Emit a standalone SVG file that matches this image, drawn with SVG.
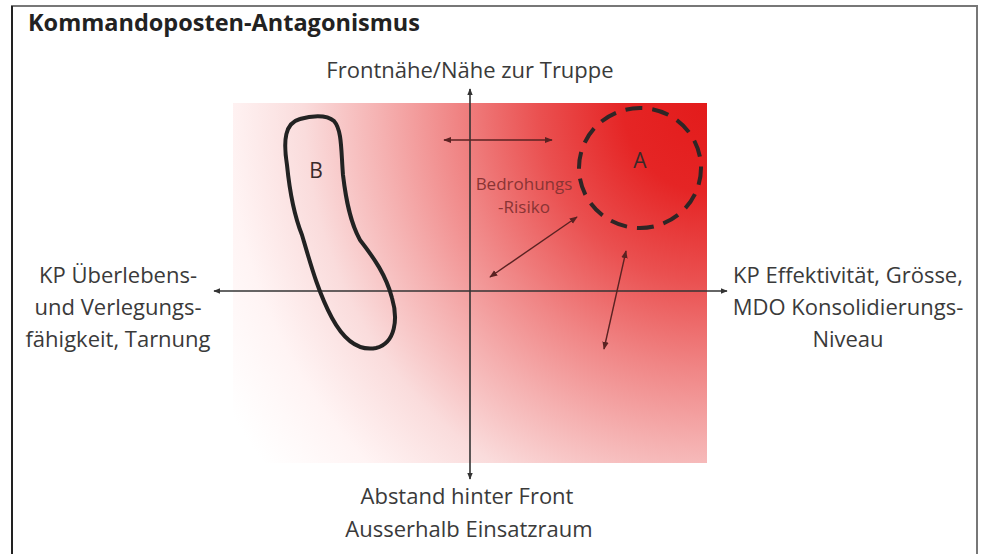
<svg xmlns="http://www.w3.org/2000/svg" width="984" height="554" viewBox="0 0 984 554">
<style>
.lbl{font-family:"Open Sans","Liberation Sans",sans-serif;font-size:22px;fill:#3a3a3a;text-anchor:middle}
.ttl{font-family:"Open Sans","Liberation Sans",sans-serif;font-size:23.5px;font-weight:bold;fill:#222}
.axis{stroke:#333;stroke-width:1.6;fill:none}
.rel{stroke:#5a2222;stroke-width:1.4;fill:none}
.risk{font-family:"Open Sans","Liberation Sans",sans-serif;font-size:17px;fill:#8a3434;text-anchor:middle}
.mark{font-family:"Open Sans","Liberation Sans",sans-serif;font-size:21px;fill:#3a2a2a;text-anchor:middle}
</style>
<defs>
<radialGradient id="heat" gradientUnits="userSpaceOnUse" cx="0" cy="0" r="1" gradientTransform="translate(707,103) scale(560,590)">
<stop offset="0" stop-color="#e31b1b"/>
<stop offset="0.15" stop-color="#e52525"/>
<stop offset="0.3" stop-color="#ea5050"/>
<stop offset="0.45" stop-color="#f08585"/>
<stop offset="0.58" stop-color="#f5b0b0"/>
<stop offset="0.72" stop-color="#fadcdc"/>
<stop offset="0.86" stop-color="#fff4f4"/>
<stop offset="1" stop-color="#ffffff"/>
</radialGradient>
<marker id="ah" viewBox="0 0 10 10" refX="9" refY="5" markerWidth="7" markerHeight="7" orient="auto-start-reverse" markerUnits="userSpaceOnUse">
<path d="M0,1 L10,5 L0,9 Z" fill="#333"/>
</marker>
<marker id="ar" viewBox="0 0 10 10" refX="9" refY="5" markerWidth="8" markerHeight="8" orient="auto-start-reverse" markerUnits="userSpaceOnUse">
<path d="M0,1 L10,5 L0,9 Z" fill="#5a2222"/>
</marker>
</defs>
<rect x="0" y="0" width="984" height="554" fill="#ffffff"/>
<g id="frame">
<path d="M12,554 L12,6 L977,6 L977,554" fill="none" stroke="#777" stroke-width="2"/>
<line x1="12" y1="6" x2="12" y2="554" stroke="#222" stroke-width="2"/>
</g>
<text class="ttl" x="28" y="31">Kommandoposten-Antagonismus</text>
<rect id="field" x="233" y="103" width="474" height="360" fill="url(#heat)"/>
<g id="connectors">
<line class="axis" x1="470" y1="479" x2="470" y2="89" marker-start="url(#ah)" marker-end="url(#ah)"/>
<line class="axis" x1="214" y1="291" x2="727" y2="291" marker-start="url(#ah)" marker-end="url(#ah)"/>
<line class="rel" x1="444" y1="140" x2="552" y2="140" marker-start="url(#ar)" marker-end="url(#ar)"/>
<line class="rel" x1="490" y1="277" x2="577" y2="217" marker-start="url(#ar)" marker-end="url(#ar)"/>
<line class="rel" x1="604" y1="349" x2="626" y2="251" marker-start="url(#ar)" marker-end="url(#ar)"/>
</g>
<g id="node-A">
<ellipse cx="640" cy="168" rx="61" ry="60" fill="none" stroke="#2e2626" stroke-width="4" stroke-dasharray="17 10"/>
<text class="mark" x="640" y="168">A</text>
</g>
<g id="node-B">
<path d="M300,119 C285,123 283,140 287,165 C290,195 294,215 302,235 C310,262 318,292 332,318 C345,342 360,351 376,348 C396,343 398,318 392,298 C386,275 374,258 360,240 C350,222 346,200 343,175 C341,150 342,130 334,121 C326,114 310,116 300,119 Z" fill="none" stroke="#222" stroke-width="4"/>
<text class="mark" x="316" y="178">B</text>
</g>
<g id="label-risk">
<text class="risk" x="524" y="190">Bedrohungs</text>
<text class="risk" x="524" y="213">-Risiko</text>
</g>
<g id="label-top">
<text class="lbl" x="470" y="78">Frontnähe/Nähe zur Truppe</text>
</g>
<g id="label-left">
<text class="lbl" x="118" y="283">KP Überlebens-</text>
<text class="lbl" x="118" y="315">und Verlegungs-</text>
<text class="lbl" x="118" y="347">fähigkeit, Tarnung</text>
</g>
<g id="label-right">
<text class="lbl" x="848" y="283">KP Effektivität, Grösse,</text>
<text class="lbl" x="848" y="315">MDO Konsolidierungs-</text>
<text class="lbl" x="848" y="347">Niveau</text>
</g>
<g id="label-bottom">
<text class="lbl" x="467" y="504">Abstand hinter Front</text>
<text class="lbl" x="469" y="537">Ausserhalb Einsatzraum</text>
</g>
</svg>
